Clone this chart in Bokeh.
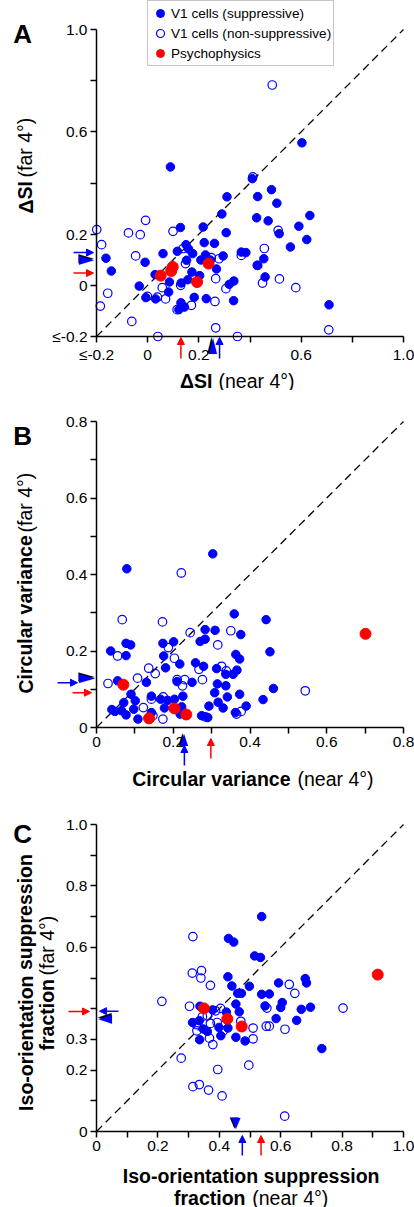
from bokeh.plotting import figure
from bokeh.layouts import column
from bokeh.models import (FixedTicker, Label, Arrow, NormalHead, PolyAnnotation,
                          Legend, LegendItem, Range1d)
from bokeh.embed import file_html
from bokeh.resources import INLINE

# ---------------- data ----------------
# Panel A : delta SI
A_supp_near = [0.089, 0.603, 0.409, 0.484, 0.430, 0.505, 0.310, 0.290, 0.426, 0.471, 0.634, 0.591, 0.514, 0.622, 0.558,
               0.307, 0.217, 0.128, 0.221, 0.261, 0.150, 0.160, 0.116, 0.060, 0.176, 0.366, 0.384, 0.295, 0.226, 0.208,
               0.152, 0.245, 0.454, 0.428, 0.269, 0.173, 0.203, 0.157, 0.131, 0.085, 0.029, -0.010, -0.033, -0.007, 0.031,
               0.082, 0.182, 0.229, 0.336, 0.319, 0.337, 0.459, 0.130, 0.144, 0.122, 0.709, -0.163, -0.142]
A_supp_far = [0.463, 0.557, 0.417, 0.374, 0.347, 0.321, 0.346, 0.279, 0.264, 0.252, 0.273, 0.231, 0.202, 0.179, 0.150,
              0.206, 0.228, 0.226, 0.167, 0.164, 0.159, 0.142, 0.133, 0.124, 0.124, 0.130, 0.128, 0.115, 0.119, 0.099,
              0.098, 0.099, 0.104, 0.078, 0.064, 0.052, 0.038, 0.022, 0.009, 0.013, 0.042, 0.090, -0.003, -0.048, -0.053,
              -0.026, -0.047, -0.052, -0.060, 0.004, 0.017, 0.033, -0.068, -0.085, -0.095, -0.076, 0.106, 0.056]
A_non_near = [0.487, 0.411, -0.199, -0.180, -0.075, -0.029, -0.008, 0.099, -0.047, -0.156, -0.185, -0.062, 0.040, 0.266,
              0.351, 0.708, 0.263, 0.115, 0.171, 0.070, -0.001, 0.038, 0.057, 0.129, 0.148, 0.306, 0.266, 0.449, 0.515,
              0.579, 0.456, 0.366, 0.430, 0.510, 0.249, 0.279, 0.139]
A_non_far = [0.783, 0.424, 0.218, 0.159, 0.205, 0.198, 0.254, 0.211, 0.115, -0.031, -0.081, -0.141, -0.200, -0.166,
             -0.200, -0.174, -0.063, -0.095, -0.078, -0.053, -0.043, -0.046, -0.009, 0.000, 0.085, -0.013, 0.026, 0.009,
             0.025, -0.009, 0.144, 0.117, 0.078, 0.215, 0.108, 0.104, 0.144]
A_psy_near = [0.051, 0.092, 0.098, 0.193, 0.238]
A_psy_far = [0.038, 0.056, 0.072, 0.013, 0.085]
A_tri_near, A_blue_near, A_red_near = 0.249, 0.281, 0.130
A_tri_far, A_blue_far, A_red_far = 0.104, 0.128, 0.048

# Panel B : circular variance
B_supp_near = [0.303, 0.079, 0.359, 0.442, 0.283, 0.309, 0.376, 0.270, 0.283, 0.173, 0.201, 0.077, 0.089, 0.037, 0.077,
               0.175, 0.452, 0.363, 0.373, 0.180, 0.217, 0.258, 0.279, 0.313, 0.337, 0.356, 0.366, 0.210, 0.249, 0.130,
               0.055, 0.315, 0.337, 0.461, 0.308, 0.341, 0.373, 0.434, 0.390, 0.317, 0.330, 0.293, 0.090, 0.101, 0.071,
               0.097, 0.040, 0.048, 0.065, 0.077, 0.108, 0.143, 0.167, 0.185, 0.203, 0.225, 0.177, 0.222, 0.218, 0.143,
               0.274, 0.290, 0.362]
B_supp_far = [0.454, 0.415, 0.297, 0.282, 0.256, 0.254, 0.243, 0.225, 0.231, 0.220, 0.224, 0.220, 0.216, 0.200, 0.188,
              0.187, 0.198, 0.191, 0.179, 0.156, 0.166, 0.169, 0.160, 0.154, 0.139, 0.139, 0.150, 0.120, 0.118, 0.118,
              0.122, 0.114, 0.109, 0.102, 0.091, 0.080, 0.087, 0.073, 0.056, 0.066, 0.051, 0.056, 0.087, 0.070, 0.065,
              0.048, 0.047, 0.042, 0.044, 0.033, 0.022, 0.082, 0.074, 0.071, 0.074, 0.082, 0.051, 0.054, 0.035, 0.039,
              0.031, 0.026, 0.039]
B_non_near = [0.221, 0.067, 0.172, 0.244, 0.350, 0.316, 0.055, 0.203, 0.187, 0.136, 0.153, 0.107, 0.030, 0.210, 0.230,
              0.224, 0.276, 0.267, 0.326, 0.338, 0.544, 0.122, 0.143, 0.174, 0.147, 0.173, 0.283, 0.377, 0.365]
B_non_far = [0.404, 0.282, 0.276, 0.248, 0.253, 0.216, 0.187, 0.181, 0.209, 0.155, 0.141, 0.129, 0.115, 0.125, 0.125,
             0.109, 0.125, 0.152, 0.160, 0.148, 0.096, 0.052, 0.074, 0.080, 0.031, 0.022, 0.028, 0.042, 0.035]
B_psy_near = [0.070, 0.203, 0.234, 0.137, 0.701]
B_psy_far = [0.112, 0.050, 0.034, 0.024, 0.245]
B_tri_near, B_blue_near, B_red_near = 0.224, 0.229, 0.298
B_tri_far, B_blue_far, B_red_far = 0.132, 0.117, 0.091

# Panel C : iso-orientation suppression fraction
C_supp_near = [0.538, 0.430, 0.447, 0.515, 0.534, 0.428, 0.441, 0.498, 0.460, 0.472, 0.538, 0.563, 0.593, 0.680, 0.684,
               0.605, 0.600, 0.549, 0.697, 0.667, 0.454, 0.465, 0.585, 0.652, 0.734, 0.484, 0.454, 0.405, 0.336, 0.361,
               0.313, 0.337, 0.378, 0.423, 0.399, 0.335, 0.348, 0.428]
C_supp_far = [0.700, 0.629, 0.617, 0.572, 0.567, 0.504, 0.474, 0.473, 0.450, 0.450, 0.447, 0.448, 0.484, 0.498, 0.484,
              0.420, 0.404, 0.409, 0.405, 0.398, 0.415, 0.390, 0.368, 0.362, 0.270, 0.295, 0.307, 0.312, 0.299, 0.326,
              0.355, 0.408, 0.396, 0.389, 0.339, 0.361, 0.334, 0.337]
C_non_near = [0.314, 0.342, 0.312, 0.340, 0.371, 0.628, 0.646, 0.213, 0.303, 0.803, 0.555, 0.614, 0.553, 0.510, 0.368,
              0.379, 0.276, 0.395, 0.496, 0.314, 0.335, 0.365, 0.409, 0.613, 0.325, 0.345, 0.361, 0.388, 0.404, 0.371,
              0.393, 0.413, 0.470, 0.510, 0.327, 0.563]
C_non_far = [0.635, 0.524, 0.516, 0.500, 0.476, 0.479, 0.450, 0.424, 0.408, 0.402, 0.402, 0.333, 0.343, 0.302, 0.304,
             0.283, 0.239, 0.202, 0.216, 0.146, 0.153, 0.135, 0.116, 0.050, 0.348, 0.374, 0.377, 0.393, 0.401, 0.352,
             0.355, 0.328, 0.359, 0.337, 0.328, 0.343]
C_psy_near = [0.350, 0.426, 0.473, 0.916]
C_psy_far = [0.401, 0.367, 0.342, 0.511]
C_tri_near, C_blue_near, C_red_near = 0.449, 0.475, 0.536
C_tri_far, C_blue_far, C_red_far = 0.371, 0.392, 0.391

# ticks
A_ticks = [-0.2, 0, 0.2, 0.4, 0.6, 0.8, 1.0]
A_xlabels = ["≤-0.2", "0", "0.2", "", "0.6", "", "1.0"]
A_ylabels = ["≤-0.2", "0", "0.2", "", "0.6", "", "1.0"]
B_ticks = [0, 0.1, 0.2, 0.3, 0.4, 0.5, 0.6, 0.7, 0.8]
B_labels = ["0", "", "0.2", "", "0.4", "", "0.6", "", "0.8"]
C_ticks = [0, 0.1, 0.2, 0.3, 0.4, 0.5, 0.6, 0.7, 0.8, 0.9, 1.0]
C_xlabels = ["0", "", "0.2", "", "0.4", "", "0.6", "", "0.8", "", "1.0"]
C_ylabels = ["0", "", "0.2", "0.3", "", "", "0.6", "", "0.8", "", "1.0"]
A_diag = [-0.2, 1.0]
B_diag = [0, 0.8]
C_diag = [0, 1.0]

# ---------------- style ----------------
BLUE = "#0000ff"
RED = "#ff0000"
FONT = "Liberation Sans"
TICK_FS = "15.5px"
TITLE_FS = "19.5px"
W = 414
AX_L, AX_R = 96, 403  # pixel columns of the axis box


class Geo:
    """maps figure-local pixel positions (origin top-left) to data units"""

    def __init__(self, x0, x1, y0, y1, top, bottom, height):
        self.x0, self.x1, self.y0, self.y1 = x0, x1, y0, y1
        self.top, self.bottom, self.H = top, bottom, height
        self.sx = (AX_R - AX_L) / (x1 - x0)
        self.sy = (bottom - top) / (y1 - y0)

    def X(self, px):
        return self.x0 + (px - AX_L) / self.sx

    def Y(self, py):
        return self.y0 + (self.bottom - py) / self.sy


def make_fig(g, xticks, xlabels, yticks, ylabels):
    p = figure(width=W, height=g.H,
               x_range=Range1d(g.X(0), g.X(W)), y_range=Range1d(g.Y(g.H), g.Y(0)),
               min_border=0, output_backend="svg", toolbar_location=None)
    p.grid.visible = False
    p.outline_line_color = None
    p.background_fill_color = "white"
    p.border_fill_color = "white"
    p.xaxis.ticker = FixedTicker(ticks=xticks, minor_ticks=[])
    p.yaxis.ticker = FixedTicker(ticks=yticks, minor_ticks=[])
    p.xaxis.major_label_overrides = {t: l for t, l in zip(xticks, xlabels)}
    p.yaxis.major_label_overrides = {t: l for t, l in zip(yticks, ylabels)}
    p.xaxis.fixed_location = g.y0
    p.yaxis.fixed_location = g.x0
    p.xaxis.bounds = (g.x0, g.x1)
    p.yaxis.bounds = (g.y0, g.y1)
    for ax in (p.xaxis, p.yaxis):
        ax.axis_line_color = "black"
        ax.axis_line_width = 1.5
        ax.major_tick_line_color = "black"
        ax.major_tick_line_width = 1.5
        ax.major_tick_out = 6
        ax.major_tick_in = 0
        ax.minor_tick_out = 0
        ax.minor_tick_in = 0
        ax.major_label_text_font = FONT
        ax.major_label_text_font_size = TICK_FS
        ax.major_label_text_color = "black"
    p.xaxis.major_label_standoff = 3
    p.yaxis.major_label_standoff = 3
    return p


def points(p, diag, sn, sf, nn, nf, pn, pf):
    p.line(diag, diag, line_dash="8 5", line_color="black", line_width=1.3)
    r_non = p.scatter(nn, nf, size=8.5, marker="circle", fill_color="white", fill_alpha=0.0,
                      line_color=BLUE, line_width=1.2)
    r_sup = p.scatter(sn, sf, size=8.5, marker="circle", fill_color=BLUE, line_color=BLUE, line_width=1)
    r_psy = p.scatter(pn, pf, size=11, marker="circle", fill_color=RED, line_color=RED, line_width=1)
    return r_sup, r_non, r_psy


def label(p, g, px, py, text, bold=False, align="left", angle=0.0, size=TITLE_FS, baseline="middle"):
    p.add_layout(Label(x=g.X(px), y=g.Y(py), text=text, text_font=FONT, text_font_size=size,
                       text_font_style="bold" if bold else "normal", text_align=align,
                       text_baseline=baseline, angle=angle, text_color="black"))


def harrow(p, g, yval, px0, px1, color):
    p.add_layout(Arrow(x_start=g.X(px0), y_start=yval, x_end=g.X(px1), y_end=yval,
                       line_color=color, line_width=1.5,
                       end=NormalHead(size=7, fill_color=color, line_color=color, line_width=1)))


def varrow(p, g, xval, py0, py1, color):
    p.add_layout(Arrow(x_start=xval, y_start=g.Y(py0), x_end=xval, y_end=g.Y(py1),
                       line_color=color, line_width=1.5,
                       end=NormalHead(size=7, fill_color=color, line_color=color, line_width=1)))


def htri(p, g, yval, px_tip, px_base, hw=4.5):
    for shift, col in ((0.0, "black"), (1.6, BLUE)):
        yc = yval - shift / g.sy
        xs = [g.X(px_tip + shift * 0.3), g.X(px_base + shift * 0.3), g.X(px_base + shift * 0.3)]
        ys = [yc, yc + hw / g.sy, yc - hw / g.sy]
        p.add_layout(PolyAnnotation(xs=xs, ys=ys, fill_color=col, fill_alpha=1.0,
                                    line_color=col, line_width=0.5, level="overlay"))


def vtri(p, g, xval, py_tip, py_base, hw=4.0):
    for shift, col in ((0.0, "black"), (1.6, BLUE)):
        xc = xval + shift / g.sx
        xs = [xc, xc - hw / g.sx, xc + hw / g.sx]
        ys = [g.Y(py_tip + shift * 0.3), g.Y(py_base + shift * 0.3), g.Y(py_base + shift * 0.3)]
        p.add_layout(PolyAnnotation(xs=xs, ys=ys, fill_color=col, fill_alpha=1.0,
                                    line_color=col, line_width=0.5, level="overlay"))


# ---------------- panel A ----------------
oA = 0
gA = Geo(-0.2, 1.0, -0.2, 1.0, 29, 336, 390)
pA = make_fig(gA, A_ticks, A_xlabels, A_ticks, A_ylabels)
rs, rn, rp = points(pA, A_diag, A_supp_near, A_supp_far, A_non_near, A_non_far, A_psy_near, A_psy_far)
legend = Legend(items=[LegendItem(label="V1 cells (suppressive)", renderers=[rs]),
                       LegendItem(label="V1 cells (non-suppressive)", renderers=[rn]),
                       LegendItem(label="Psychophysics", renderers=[rp])],
                location=(147, 390 - 66), margin=0, padding=2, spacing=-5,
                glyph_width=20, glyph_height=20, label_height=15, label_standoff=1,
                label_text_font=FONT, label_text_font_size="13.6px", label_text_color="black",
                border_line_color="#8c8c8c", border_line_width=1.5,
                background_fill_color="white", background_fill_alpha=1.0)
pA.add_layout(legend)
harrow(pA, gA, A_blue_far, 73, 93, BLUE)
htri(pA, gA, A_tri_far, 93, 78)
harrow(pA, gA, A_red_far, 73, 93, RED)
varrow(pA, gA, A_red_near, 358, 337, RED)
vtri(pA, gA, A_tri_near, 337, 353)
varrow(pA, gA, A_blue_near, 358, 337, BLUE)
label(pA, gA, 12.7, 33.3, "A", bold=True, size="26px", baseline="alphabetic")
label(pA, gA, 212, 380, "ΔSI", bold=True, align="right")
label(pA, gA, 218, 380, "(near 4°)")
label(pA, gA, 25, 213, "ΔSI", bold=True, angle=1.5708)
label(pA, gA, 25, 177, "(far 4°)", angle=1.5708)

# ---------------- panel B ----------------
oB = 390
gB = Geo(0, 0.8, 0, 0.8, 421 - oB, 727 - oB, 410)
pB = make_fig(gB, B_ticks, B_labels, B_ticks, B_labels)
points(pB, B_diag, B_supp_near, B_supp_far, B_non_near, B_non_far, B_psy_near, B_psy_far)
harrow(pB, gB, B_blue_far, 57, 77, BLUE)
htri(pB, gB, B_tri_far, 94, 78)
harrow(pB, gB, B_red_far, 72, 91, RED)
vtri(pB, gB, B_tri_near, 733 - oB, 745 - oB)
varrow(pB, gB, B_blue_near, 765 - oB, 745 - oB, BLUE)
varrow(pB, gB, B_red_near, 758 - oB, 738 - oB, RED)
label(pB, gB, 12.7, 435 - oB, "B", bold=True, size="26px", baseline="alphabetic")
label(pB, gB, 290, 778 - oB, "Circular variance", bold=True, align="right")
label(pB, gB, 297, 778 - oB, "(near 4°)")
label(pB, gB, 25, 693 - oB, "Circular variance", bold=True, angle=1.5708)
label(pB, gB, 25, 532 - oB, "(far 4°)", angle=1.5708)

# ---------------- panel C ----------------
oC = 800
gC = Geo(0, 1.0, 0, 1.0, 824 - oC, 1131 - oC, 407)
pC = make_fig(gC, C_ticks, C_xlabels, C_ticks, C_ylabels)
points(pC, C_diag, C_supp_near, C_supp_far, C_non_near, C_non_far, C_psy_near, C_psy_far)
harrow(pC, gC, C_red_far, 68, 89, RED)
harrow(pC, gC, C_blue_far, 118, 99, BLUE)
htri(pC, gC, C_tri_far, 97.5, 111)
vtri(pC, gC, C_tri_near, 1128 - oC, 1117 - oC, hw=4.5)
varrow(pC, gC, C_blue_near, 1155 - oC, 1135 - oC, BLUE)
varrow(pC, gC, C_red_near, 1155 - oC, 1135 - oC, RED)
label(pC, gC, 12.7, 833 - oC, "C", bold=True, size="26px", baseline="alphabetic")
label(pC, gC, 250.6, 1175 - oC, "Iso-orientation suppression", bold=True, align="center")
label(pC, gC, 245, 1197 - oC, "fraction", bold=True, align="right")
label(pC, gC, 251.7, 1197 - oC, "(near 4°)")
label(pC, gC, 25, 982 - oC, "Iso-orientation suppression", bold=True, align="center", angle=1.5708)
label(pC, gC, 46.7, 1050 - oC, "fraction", bold=True, angle=1.5708)
label(pC, gC, 46.7, 975 - oC, "(far 4°)", angle=1.5708)

layout = column(pA, pB, pC, spacing=0)
open("out.html", "w").write(file_html(layout, INLINE))
